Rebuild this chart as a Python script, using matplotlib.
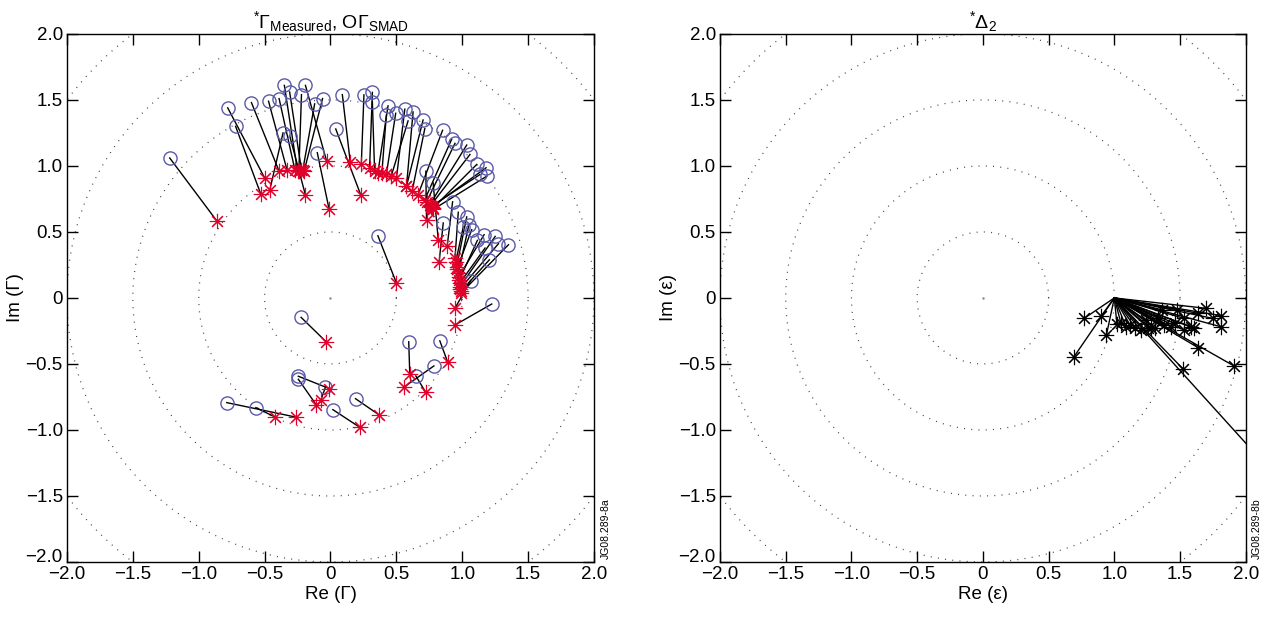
import numpy as np
import matplotlib
matplotlib.use("Agg")
import matplotlib.pyplot as plt

plt.rcParams["font.family"] = ["Liberation Sans", "DejaVu Sans"]
plt.rcParams["mathtext.fontset"] = "custom"
plt.rcParams["mathtext.rm"] = "Liberation Sans"
plt.rcParams["mathtext.it"] = "Liberation Sans:italic"

# Gamma_SMAD (circles) and Gamma_measured (stars), paired point by point
smad_re = [-1.22, -0.78, -0.72, -0.60, -0.47, -0.39, -0.35, -0.31, -0.22, -0.19, -0.12, -0.06,
           -0.36, -0.31, -0.10, 0.04, 0.09,
           0.254, 0.318, 0.318, 0.437, 0.424, 0.495, 0.564, 0.627, 0.589, 0.703, 0.716,
           0.851, 0.920, 0.945, 1.034, 1.059, 1.110, 1.181, 1.186, 1.135, 0.724, 0.779,
           0.927, 0.970, 0.856, 1.034, 1.008, 1.051, 1.072, 1.115, 1.166, 1.250, 1.275,
           1.351, 1.173, 1.206, 1.064, 1.224,
           0.360, -0.223, 0.594, 0.830, 0.785, 0.648, -0.244, -0.244, -0.038, 0.190,
           0.018, -0.787, -0.566]
smad_im = [1.06, 1.44, 1.30, 1.48, 1.49, 1.51, 1.61, 1.56, 1.54, 1.61, 1.47, 1.51,
           1.25, 1.23, 1.10, 1.28, 1.54,
           1.538, 1.557, 1.485, 1.455, 1.384, 1.399, 1.430, 1.409, 1.341, 1.348, 1.283,
           1.270, 1.202, 1.171, 1.158, 1.087, 1.011, 0.986, 0.922, 0.935, 0.960, 0.872,
           0.728, 0.649, 0.568, 0.614, 0.538, 0.555, 0.517, 0.436, 0.479, 0.466, 0.411,
           0.403, 0.378, 0.289, 0.132, -0.046,
           0.471, -0.147, -0.332, -0.325, -0.515, -0.591, -0.593, -0.616, -0.675, -0.763,
           -0.846, -0.793, -0.831]
meas_re = [-0.86, -0.50, -0.53, -0.39, -0.33, -0.27, -0.25, -0.22, -0.24, -0.03, -0.21, -0.20,
           -0.46, -0.19, -0.01, 0.23, 0.15,
           0.234, 0.297, 0.335, 0.36, 0.39, 0.424, 0.501, 0.577, 0.46, 0.577, 0.62,
           0.665, 0.716, 0.73, 0.754, 0.76, 0.779, 0.77, 0.779, 0.76, 0.729, 0.818,
           0.886, 0.945, 0.825, 0.958, 0.95, 0.970, 0.96, 0.978, 0.975, 0.983, 0.985,
           0.990, 0.98, 0.99, 0.945, 0.945,
           0.501, -0.033, 0.602, 0.889, 0.558, 0.722, -0.008, -0.109, -0.071, 0.366,
           0.221, -0.261, -0.419]
meas_im = [0.58, 0.91, 0.79, 0.96, 0.97, 0.97, 0.96, 0.97, 0.96, 1.04, 0.97, 0.96,
           0.82, 0.78, 0.67, 0.78, 1.03,
           1.011, 0.986, 0.960, 0.95, 0.945, 0.935, 0.910, 0.846, 0.92, 0.846, 0.81,
           0.783, 0.745, 0.73, 0.707, 0.70, 0.682, 0.69, 0.67, 0.69, 0.59, 0.441,
           0.395, 0.302, 0.276, 0.238, 0.27, 0.188, 0.22, 0.137, 0.16, 0.086, 0.07,
           0.036, 0.11, 0.05, -0.078, -0.205,
           0.112, -0.332, -0.578, -0.484, -0.675, -0.713, -0.687, -0.808, -0.770, -0.884,
           -0.979, -0.903, -0.903]

# Delta_2 points, each joined to (1, 0)
d2_re = [0.77, 0.90, 1.02, 0.94, 0.69, 1.12, 1.16, 1.26, 1.28, 1.36, 1.48, 1.53, 1.64,
         1.70, 1.81, 1.75, 1.81, 1.585, 1.61, 1.43, 1.46, 1.53, 1.64, 1.91, 1.52, 1.31,
         1.20, 1.38, 1.05, 1.09, 1.24, 1.33, 2.6]
d2_im = [-0.155, -0.137, -0.20, -0.28, -0.45, -0.205, -0.226, -0.226, -0.231, -0.09,
         -0.09, -0.155, -0.117, -0.079, -0.134, -0.155, -0.218, -0.218, -0.231, -0.218,
         -0.193, -0.243, -0.378, -0.515, -0.535, -0.231, -0.243, -0.205, -0.19, -0.22,
         -0.17, -0.15, -1.76]

radii = [0.5, 1.0, 1.5, 2.0, 2.5]
ticks = [-2.0, -1.5, -1.0, -0.5, 0.0, 0.5, 1.0, 1.5, 2.0]
tick_labels = ["\u22122.0", "\u22121.5", "\u22121.0", "\u22120.5", "0", "0.5", "1.0", "1.5", "2.0"]

star = (8, 2, 0)
fs = 13.5

fig = plt.figure(figsize=(12.73, 6.22), dpi=100)
ax1 = fig.add_axes([0.0526, 0.0965, 0.414, 0.849])
ax2 = fig.add_axes([0.5656, 0.0965, 0.413, 0.849])


def setup(ax, xlabel, ylabel, title, tag):
    th = np.linspace(0, 2 * np.pi, 400)
    for r in radii:
        ax.plot(r * np.cos(th), r * np.sin(th), color="#444444", lw=0.9,
                linestyle=(0, (0.8, 5)), zorder=1)
    ax.plot([0], [0], marker=".", color="#888888", ms=1.5, zorder=1)
    ax.set_xlim(-2, 2)
    ax.set_ylim(-2, 2)
    ax.set_xticks(ticks)
    ax.set_yticks(ticks)
    ax.set_xticklabels(tick_labels, fontsize=fs)
    ax.set_yticklabels(tick_labels, fontsize=fs)
    # lowest y label sits a little above its tick, as in the original
    ax.get_yticklabels()[0].set_verticalalignment("baseline")
    ax.tick_params(direction="in", length=8, width=1, top=True, right=True, pad=3)
    ax.set_xlabel(xlabel, fontsize=fs, labelpad=2)
    ax.set_ylabel(ylabel, fontsize=fs, labelpad=1)
    ax.set_title(title, fontsize=fs + 0.5, pad=4)
    for s in ax.spines.values():
        s.set_linewidth(1.0)
    ax.text(1.012, 0.005, tag, transform=ax.transAxes, rotation=90, fontsize=7.5,
            ha="left", va="bottom")


setup(ax1, "Re (\u0393)", "Im (\u0393)",
      r"$^{*}\Gamma_{\mathrm{Measured}}$, O$\Gamma_{\mathrm{SMAD}}$", "JG08.289-8a")
setup(ax2, "Re (\u03b5)", "Im (\u03b5)", r"$^{*}\Delta_{2}$", "JG08.289-8b")

for sr, si, mr, mi in zip(smad_re, smad_im, meas_re, meas_im):
    ax1.plot([sr, mr], [si, mi], color="black", lw=1.0, zorder=2)
ax1.plot(smad_re, smad_im, linestyle="none", marker="o", ms=9.5, mfc="none",
         mec="#5a5aa8", mew=1.0, zorder=3)
ax1.plot(meas_re, meas_im, linestyle="none", marker=star, ms=11, mec="#e0002a",
         mew=0.8, zorder=4)

for dr, di in zip(d2_re, d2_im):
    ax2.plot([1.0, dr], [0.0, di], color="black", lw=1.0, zorder=2)
ax2.plot(d2_re, d2_im, linestyle="none", marker=star, ms=11, mec="black",
         mew=0.8, zorder=3)

fig.savefig("out.png", dpi=100)
